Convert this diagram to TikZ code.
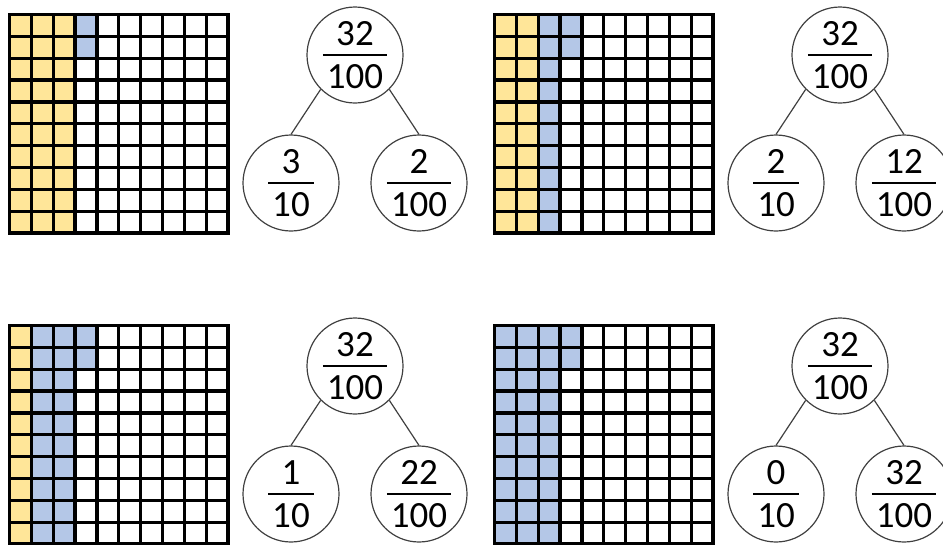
\documentclass[tikz,border=0pt]{standalone}
\usepackage{fontspec}
\setmainfont{Carlito}
\definecolor{yel}{HTML}{FFE699}
\definecolor{blu}{HTML}{B4C7E7}
\newcommand\fr[2]{\vbox{\offinterlineskip\halign{\hskip4pt\hfil##\hfil\hskip4pt\cr
 #1\cr\noalign{\kern8.5pt\hrule height 1.8pt\kern8.5pt}
 #2\cr}}}
\newcommand\hgrid[2]{%
  \foreach \i in {0,...,10} {
    \draw[gline] (#1+\i*21.85,#2) -- ++(0,218.5);
    \draw[gline] (#1,#2+\i*21.85) -- ++(218.5,0);
  }}
\tikzset{
  gline/.style={line width=3.3pt, line cap=rect, black},
  bub/.style={circle, draw=black!75, line width=1.2pt, minimum size=96pt, inner sep=0pt,
    font=\fontsize{37}{44}\selectfont},
  con/.style={draw=black!75, line width=1.2pt}
}
\begin{document}
\begin{tikzpicture}[x=1pt,y=-1pt]
\useasboundingbox (0,0) rectangle (943,544);
% grid 1
\fill[yel] (9.5,14.5) rectangle ++(65.55,218.5);
\fill[blu] (75.05,14.5) rectangle ++(21.85,43.7);
\hgrid{9.5}{14.5}
% grid 2
\fill[yel] (494.5,14.5) rectangle ++(43.7,218.5);
\fill[blu] (538.2,14.5) rectangle ++(21.85,218.5);
\fill[blu] (560.05,14.5) rectangle ++(21.85,43.7);
\hgrid{494.5}{14.5}
% grid 3
\fill[yel] (9.5,325.5) rectangle ++(21.85,218.5);
\fill[blu] (31.35,325.5) rectangle ++(43.7,218.5);
\fill[blu] (75.05,325.5) rectangle ++(21.85,43.7);
\hgrid{9.5}{325.5}
% grid 4
\fill[blu] (494.5,325.5) rectangle ++(65.55,218.5);
\fill[blu] (560.05,325.5) rectangle ++(21.85,43.7);
\hgrid{494.5}{325.5}
% tree 1
\node[bub] (t1) at (355,55) {\fr{32}{100}};
\node[bub] (l1) at (291,183) {\fr{3}{10}};
\node[bub] (r1) at (419,183) {\fr{2}{100}};
% tree 2
\node[bub] (t2) at (840,55) {\fr{32}{100}};
\node[bub] (l2) at (776,183) {\fr{2}{10}};
\node[bub] (r2) at (904,183) {\fr{12}{100}};
% tree 3
\node[bub] (t3) at (355,366) {\fr{32}{100}};
\node[bub] (l3) at (291,494) {\fr{1}{10}};
\node[bub] (r3) at (419,494) {\fr{22}{100}};
% tree 4
\node[bub] (t4) at (840,366) {\fr{32}{100}};
\node[bub] (l4) at (776,494) {\fr{0}{10}};
\node[bub] (r4) at (904,494) {\fr{32}{100}};
\foreach \n in {1,2,3,4} {
  \draw[con] (t\n.225) -- (l\n.north);
  \draw[con] (t\n.-45) -- (r\n.north);
}
\end{tikzpicture}
\end{document}
